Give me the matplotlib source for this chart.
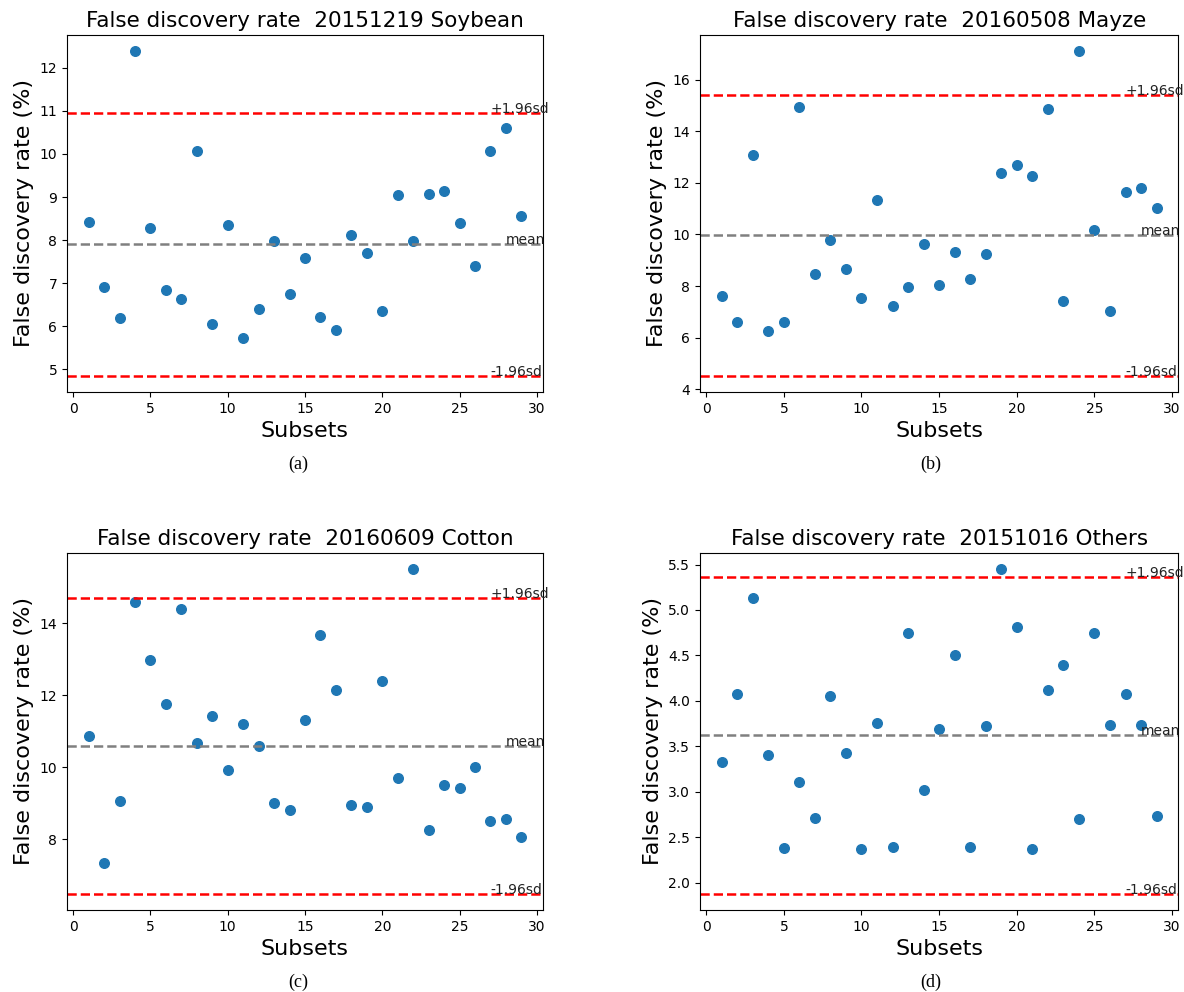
import numpy as np
import matplotlib
matplotlib.use("Agg")
import matplotlib.pyplot as plt

subsets = list(range(1, 30))

titles = ['False discovery rate  20151219 Soybean',
          'False discovery rate  20160508 Mayze',
          'False discovery rate  20160609 Cotton',
          'False discovery rate  20151016 Others']
captions = ['(a)', '(b)', '(c)', '(d)']

fdr_soybean = [8.43, 6.92, 6.19, 12.39, 8.28, 6.85, 6.62, 10.08, 6.05, 8.36,
               5.72, 6.40, 7.98, 6.74, 7.58, 6.22, 5.92, 8.11, 7.69, 6.34,
               9.05, 7.98, 9.08, 9.15, 8.40, 7.39, 10.07, 10.60, 8.55]
fdr_mayze = [7.62, 6.59, 13.09, 6.24, 6.61, 14.93, 8.47, 9.79, 8.66, 7.53,
             11.35, 7.21, 7.96, 9.63, 8.04, 9.31, 8.26, 9.26, 12.38, 12.69,
             12.28, 14.86, 7.43, 17.11, 10.19, 7.05, 11.65, 11.81, 11.02]
fdr_cotton = [10.85, 7.32, 9.07, 14.59, 12.97, 11.76, 14.39, 10.68, 11.42, 9.92,
              11.19, 10.59, 9.01, 8.80, 11.32, 13.68, 12.15, 8.94, 8.89, 12.39,
              9.69, 15.50, 8.26, 9.51, 9.41, 9.99, 8.49, 8.57, 8.07]
fdr_others = [3.33, 4.08, 5.13, 3.41, 2.38, 3.11, 2.71, 4.05, 3.43, 2.37,
              3.76, 2.39, 4.75, 3.02, 3.69, 4.50, 2.39, 3.72, 5.45, 4.81,
              2.37, 4.12, 4.40, 2.70, 4.75, 3.74, 4.08, 3.74, 2.73]

# mean, +1.96sd, -1.96sd for each panel
mean_vals = [7.91, 9.98, 10.59, 3.62]
upper_vals = [10.95, 15.42, 14.71, 5.36]
lower_vals = [4.845, 4.52, 6.48, 1.88]

series = [fdr_soybean, fdr_mayze, fdr_cotton, fdr_others]

fig = plt.figure(figsize=(11.84, 9.92), dpi=100)

# axes boxes in figure fractions
boxes = [[0.0566, 0.6048, 0.402, 0.360],
         [0.5912, 0.6048, 0.404, 0.360],
         [0.0566, 0.0827, 0.402, 0.360],
         [0.5912, 0.0827, 0.404, 0.360]]
caption_pos = [(0.252, 0.527), (0.786, 0.527), (0.252, 0.005), (0.786, 0.005)]

for i in range(4):
    ax = fig.add_axes(boxes[i])
    ax.scatter(subsets, series[i], s=48, color='#1f77b4')
    ax.axhline(upper_vals[i], color='red', linestyle='--', linewidth=1.8)
    ax.axhline(mean_vals[i], color='gray', linestyle='--', linewidth=1.8)
    ax.axhline(lower_vals[i], color='red', linestyle='--', linewidth=1.8)
    ax.text(27, upper_vals[i], '+1.96sd', fontsize=10, color='#222222')
    ax.text(28, mean_vals[i], 'mean', fontsize=10, color='#222222')
    ax.text(27, lower_vals[i], '-1.96sd', fontsize=10, color='#222222')
    ax.set_xticks([0, 5, 10, 15, 20, 25, 30])
    ax.tick_params(labelsize=10)
    ax.set_title(titles[i], fontsize=15.5)
    ax.set_xlabel('Subsets', fontsize=16)
    ax.set_ylabel('False discovery rate (%)', fontsize=16)
    fig.text(caption_pos[i][0], caption_pos[i][1], captions[i],
             family='Liberation Serif', fontsize=13, ha='center')

plt.savefig('out.png', dpi=100)
plt.close()
